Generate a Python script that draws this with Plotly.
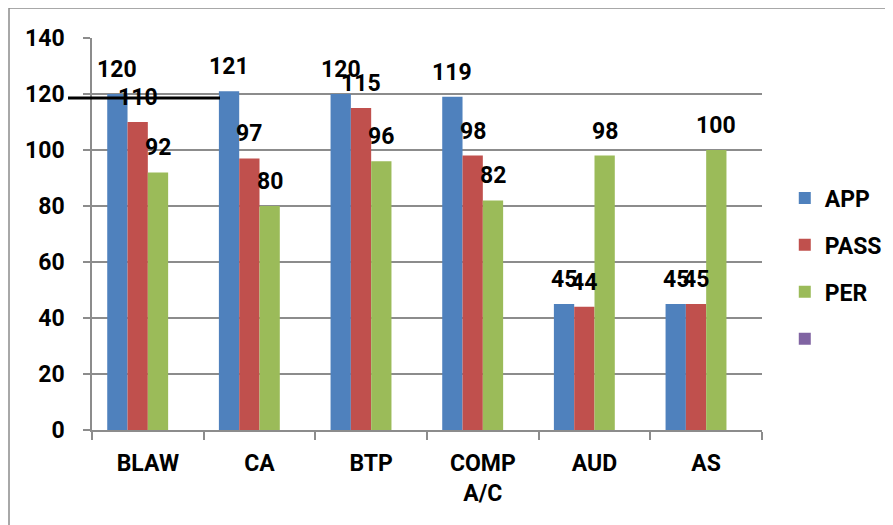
import plotly.graph_objects as go

categories = ["BLAW", "CA", "BTP", "COMP<br>A/C", "AUD", "AS"]
app = [120, 121, 120, 119, 45, 45]
pass_ = [110, 97, 115, 98, 44, 45]
per = [92, 80, 96, 82, 98, 100]
series_names = ["APP", "PASS", "PER", " "]
colors = ["#4F81BD", "#C0504D", "#9BBB59", "#8064A2"]
y_ticks = [0, 20, 40, 60, 80, 100, 120, 140]

FONT = "Roboto"
FS = 23
values = [app, pass_, per, [None] * len(categories)]


def b(s):
    return "<b>" + s.replace("<br>", "</b><br><b>") + "</b>" if s.strip() else s


fig = go.Figure()
for i, (name, vals, col) in enumerate(zip(series_names, values, colors)):
    fig.add_trace(go.Bar(
        x=categories, y=vals, name=b(name), marker_color=col,
        marker_line_width=0, legendgroup=str(i),
    ))

# data labels as annotations above each bar
L, R, T, B = 84, 147, 30, 95
W, H = 901, 517
plot_w = W - L - R
plot_h = H - T - B
cat_w = plot_w / len(categories)
bar_w = cat_w / 5.5
for i, vals in enumerate(values[:3]):
    for c, v in zip(categories, vals):
        fig.add_annotation(
            x=c, y=v, text=b(str(v)), showarrow=False,
            xshift=(i - 1.5) * bar_w, yshift=9, yanchor="bottom",
            font=dict(family=FONT, size=FS, color="black"),
        )

fig.update_layout(
    width=W, height=H,
    margin=dict(l=L, r=R, t=T, b=B),
    paper_bgcolor="white", plot_bgcolor="white",
    barmode="group", bargap=1.5 / 5.5, bargroupgap=0,
    font=dict(family=FONT, size=FS, color="black"),
    legend=dict(
        x=1.034, xanchor="left", y=0.412, yanchor="middle",
        font=dict(family=FONT, size=FS, color="black"),
        tracegroupgap=14, bgcolor="rgba(0,0,0,0)",
    ),
    showlegend=True,
)
fig.update_yaxes(
    range=[0, 140], tickvals=y_ticks, ticktext=[b(str(t)) for t in y_ticks],
    showgrid=True, gridcolor="#8C8C8C",
    gridwidth=1.5, showline=True, linecolor="#8C8C8C", linewidth=1.5,
    ticks="outside", ticklen=7, tickcolor="#8C8C8C", tickwidth=1.5,
    ticklabelstandoff=14, zeroline=False,
    tickfont=dict(family=FONT, size=FS, color="black"),
)
fig.update_xaxes(
    tickvals=categories, ticktext=[b(c) for c in categories],
    showline=True, linecolor="#8C8C8C", linewidth=1.5,
    ticks="outside", tickson="boundaries", ticklen=8, tickcolor="#8C8C8C",
    tickwidth=1.5, showgrid=False, ticklabelstandoff=12,
    tickfont=dict(family=FONT, size=FS, color="black"),
)

# outer chart border
fig.add_shape(type="rect", xref="paper", yref="paper",
              x0=(9 - 92) / plot_w, x1=1.3, y0=-0.4, y1=(430 - 8) / plot_h,
              line=dict(color="#8C8C8C", width=1.5), fillcolor="rgba(0,0,0,0)")
# stray black line
fig.add_shape(type="line", xref="paper", yref="paper",
              x0=(68 - 92) / plot_w, x1=(220 - 92) / plot_w,
              y0=118.6 / 140, y1=118.6 / 140,
              line=dict(color="black", width=3))

fig.write_html("out.html")
